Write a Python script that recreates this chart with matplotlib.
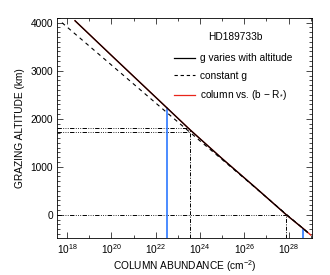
import matplotlib
matplotlib.use("Agg")
import matplotlib.pyplot as plt
from matplotlib.lines import Line2D
from matplotlib.ticker import MultipleLocator, FixedLocator, NullFormatter
import numpy as np

plt.rcParams['font.family'] = ['Liberation Sans', 'DejaVu Sans']
plt.rcParams['mathtext.fontset'] = 'custom'
plt.rcParams['mathtext.rm'] = 'Liberation Sans'
plt.rcParams['mathtext.it'] = 'Liberation Sans:italic'
plt.rcParams['font.size'] = 7.3

# log10 column abundance (cm^-2) vs grazing altitude (km)
logN_gvar = [18.36, 20.0, 22.5, 23.54, 25.0, 26.5, 27.9, 28.67, 28.85]
alt_gvar = [4040, 3320, 2230, 1775, 1170, 570, 0, -290, -365]

logN_gconst = [17.77, 20.0, 22.4, 24.0, 26.0, 27.9, 28.85]
alt_gconst = [4000, 3120, 2170, 1540, 760, 10, -360]

logN_bR = [18.36, 20.0, 22.5, 23.54, 25.0, 26.5, 27.9, 28.67, 29.0]
alt_bR = [4040, 3320, 2230, 1775, 1170, 570, 0, -290, -420]

# marker lines
blue_logN = [22.5, 28.67]
blue_alt = [2230, -290]
ref_logN = [23.54, 27.9]
ref_alt = [1775, 0]
horiz_alt = [1800, 1730, 0]
horiz_end = [23.54, 23.54, 27.9]

ymin, ymax = -480, 4100
xmin, xmax = 10**17.55, 10**29.05

fig = plt.figure(figsize=(3.3, 2.75), dpi=100)
ax = fig.add_axes([0.173, 0.135, 0.772, 0.80])

ddd = (0, (4.5, 1.5, 0.8, 1.5, 0.8, 1.5, 0.8, 1.5))
for y, xe in zip(horiz_alt, horiz_end):
    ax.plot([xmin, 10**xe], [y, y], color='black', lw=0.7, linestyle=ddd)
for x, y in zip(ref_logN, ref_alt):
    ax.plot([10**x, 10**x], [ymin, y], color='black', lw=0.7, linestyle=(0, (4, 1.5, 1, 1.5)))
for x, y in zip(blue_logN, blue_alt):
    ax.plot([10**x, 10**x], [ymin, y], color='#1a6cff', lw=1.1)

ax.plot(10**np.array(logN_bR), alt_bR, color='#e8251a', lw=1.0)
ax.plot(10**np.array(logN_gconst), alt_gconst, color='black', lw=0.8, linestyle=(0, (3.5, 3.5)))
ax.plot(10**np.array(logN_gvar), alt_gvar, color='black', lw=0.9)

ax.set_xscale('log')
ax.set_xlim(xmin, xmax)
ax.set_ylim(ymin, ymax)

ax.xaxis.set_major_locator(FixedLocator([10.0**k for k in range(18, 30, 2)]))
ax.xaxis.set_minor_locator(FixedLocator([10.0**k for k in range(19, 30, 2)]))
ax.xaxis.set_minor_formatter(NullFormatter())
ax.set_xticklabels([r'$10^{%d}$' % k for k in range(18, 30, 2)])
ax.yaxis.set_major_locator(MultipleLocator(1000))
ax.yaxis.set_minor_locator(MultipleLocator(100))
ax.tick_params(which='both', direction='in', top=True, right=True, width=0.5)
ax.tick_params(which='major', length=4, pad=3)
ax.tick_params(which='minor', length=2)
for s in ax.spines.values():
    s.set_linewidth(0.6)

ax.set_xlabel(r'COLUMN ABUNDANCE (cm$^{-2}$)', labelpad=2)
ax.set_ylabel('GRAZING ALTITUDE (km)', labelpad=4)

ax.text(0.70, 0.915, 'HD189733b', transform=ax.transAxes, ha='center', va='center')
handles = [Line2D([], [], color='black', lw=0.9),
           Line2D([], [], color='black', lw=0.8, linestyle=(0, (3, 2.5))),
           Line2D([], [], color='#e8251a', lw=0.9)]
labels = ['g varies with altitude', 'constant g', r'column vs. (b $-$ R$_{*}$)']
ax.legend(handles, labels, loc='upper left', bbox_to_anchor=(0.46, 0.84),
          frameon=False, handlelength=2.0, handletextpad=0.5, labelspacing=0.75,
          borderpad=0, borderaxespad=0)

fig.savefig('out.png', dpi=100)
